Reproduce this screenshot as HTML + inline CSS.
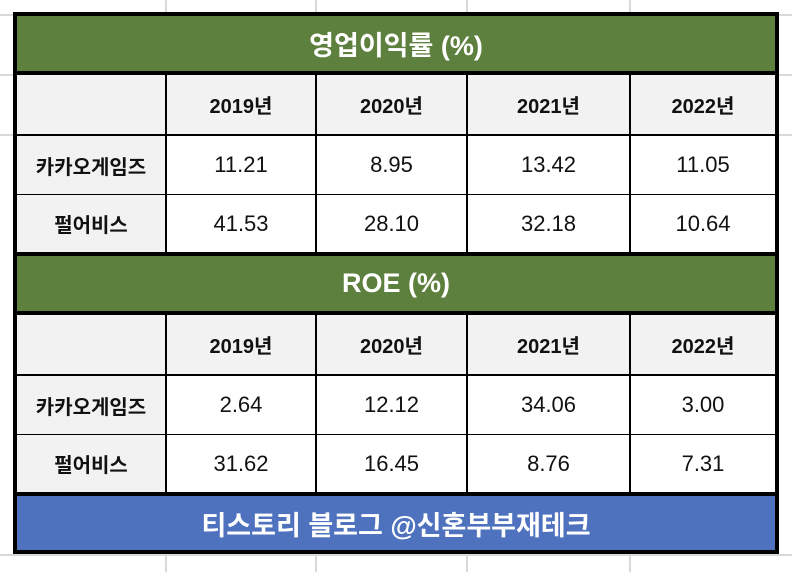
<!DOCTYPE html>
<html><head><meta charset="utf-8"><style>
body{margin:0;width:792px;height:572px;background:#fff;position:relative;overflow:hidden;font-family:"Liberation Sans","Noto Sans CJK KR",sans-serif}
.g{position:absolute;background:#d9d9d9}
.c{position:absolute;display:flex;align-items:center;justify-content:center;box-sizing:border-box}
.band{color:#fff;font-weight:bold;font-size:27px}
.hd{background:#f2f2f2;font-weight:bold;font-size:20px;color:#111}
.lb{background:#f2f2f2;font-weight:bold;font-size:20px;color:#111}
.v{font-size:22px;color:#111;background:#fff}
.ln{position:absolute;background:#000}
</style></head><body>
<div class="g" style="left:165px;top:0;width:2px;height:572px"></div>
<div class="g" style="left:315px;top:0;width:2px;height:572px"></div>
<div class="g" style="left:466px;top:0;width:2px;height:572px"></div>
<div class="g" style="left:629px;top:0;width:2px;height:572px"></div>
<div class="g" style="left:0;top:14px;width:792px;height:2px"></div>
<div class="g" style="left:0;top:74px;width:792px;height:2px"></div>
<div class="g" style="left:0;top:134px;width:792px;height:2px"></div>
<div class="g" style="left:0;top:554px;width:792px;height:2px"></div>
<div style="position:absolute;left:13px;top:12px;width:766px;height:542px;background:#000">
</div>
<div id="t"></div>
<script>
const years=["2019년","2020년","2021년","2022년"];
const companies=["카카오게임즈","펄어비스"];
const opMargin=[["11.21","8.95","13.42","11.05"],["41.53","28.10","32.18","10.64"]];
const roe=[["2.64","12.12","34.06","3.00"],["31.62","16.45","8.76","7.31"]];
const cols=[[17,148],[167,148],[317,149],[468,161],[631,144]];
function cell(x,w,y,h,cls,txt,name,bg){
 const d=document.createElement('div');
 d.className='c '+cls;
 d.style.cssText+=`left:${x}px;top:${y}px;width:${w}px;height:${h}px;`+(bg?`background:${bg};`:'');
 d.textContent=txt;
 
 
 document.body.appendChild(d);
}
function section(y0,title,tname,data){
 cell(17,758,y0,55,'band',title,tname,'#5e803e');
 const hy=y0+59;
 cells(hy,59,'hd',['',...years],'year-header');
 cells(hy+61,58,'v',null,'row',data[0],companies[0]);
 cells(hy+120,57,'v',null,'row',data[1],companies[1]);
}
function cells(y,h,cls,texts,name,vals,label){
 for(let i=0;i<5;i++){
  const [x,w]=cols[i];
  if(texts) cell(x,w,y,h,cls,texts[i],name+'-'+i);
  else if(i==0) cell(x,w,y,h,'lb',label,'company-label');
  else cell(x,w,y,h,cls,vals[i-1],'value-cell');
 }
}
section(16,"영업이익률 (%)","operating-margin-title",opMargin);
section(256,"ROE (%)","roe-title",roe);
cell(17,758,496,54,'band',"티스토리 블로그 @신혼부부재테크","blog-footer",'#4f72bf');
</script>
</body></html>
